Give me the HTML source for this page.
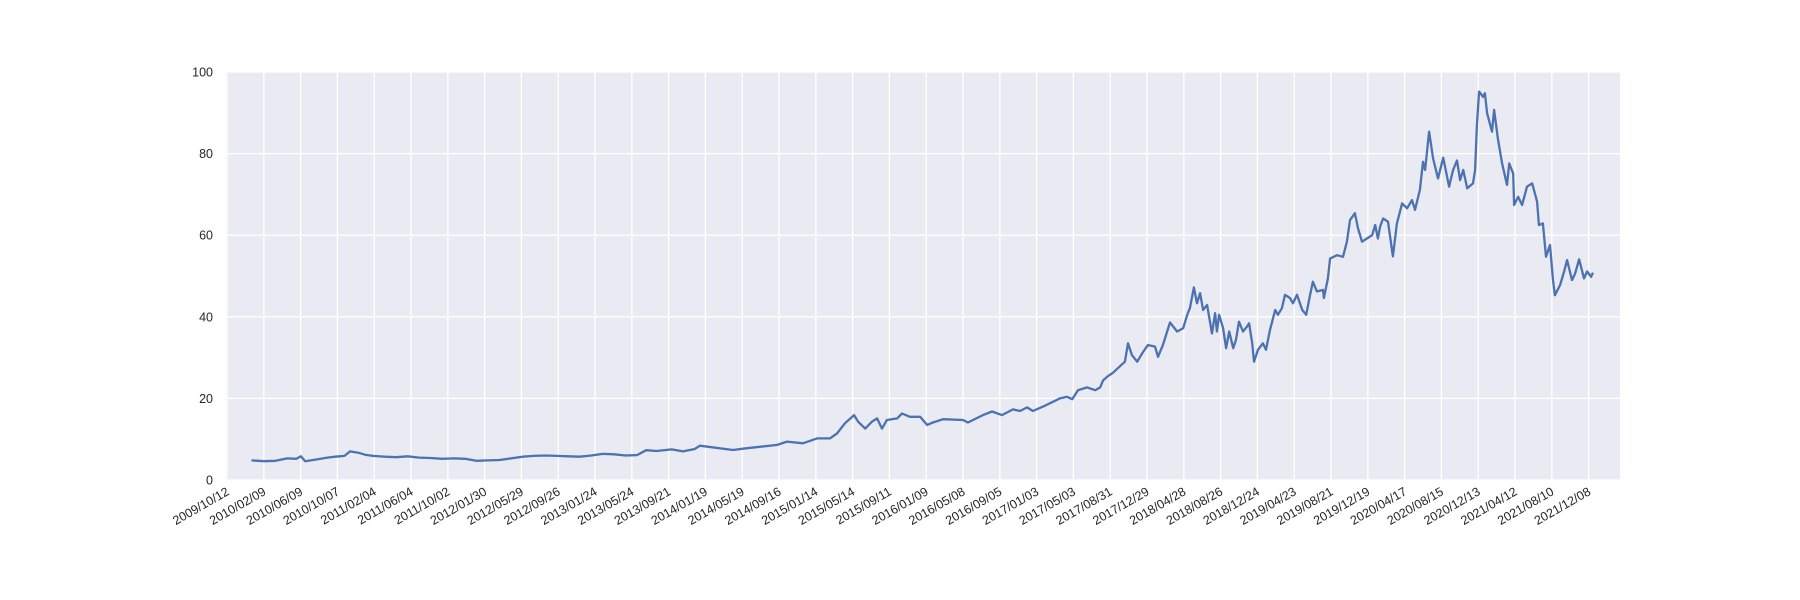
<!DOCTYPE html>
<html><head><meta charset="utf-8"><style>
html,body{margin:0;padding:0;background:#fff;}
svg{display:block;font-family:"Liberation Sans",sans-serif;}
</style></head><body>
<svg id="chart" width="1800" height="600" xmlns="http://www.w3.org/2000/svg">
<rect x="226" y="72" width="1394" height="408" fill="#eaeaf2"/>
<g id="grid"></g>
<g id="xticks"></g>
<g id="yticks"></g>
<path id="line" fill="none" stroke="#4c72b0" stroke-width="2.3" stroke-linejoin="round"/>
</svg>
<script>
const xTickLabels = ["2009/10/12","2010/02/09","2010/06/09","2010/10/07","2011/02/04","2011/06/04","2011/10/02","2012/01/30","2012/05/29","2012/09/26","2013/01/24","2013/05/24","2013/09/21","2014/01/19","2014/05/19","2014/09/16","2015/01/14","2015/05/14","2015/09/11","2016/01/09","2016/05/08","2016/09/05","2017/01/03","2017/05/03","2017/08/31","2017/12/29","2018/04/28","2018/08/26","2018/12/24","2019/04/23","2019/08/21","2019/12/19","2020/04/17","2020/08/15","2020/12/13","2021/04/12","2021/08/10","2021/12/08"];
const yTicks = [0,20,40,60,80,100];
// days since 2009/10/12
const days = [80,121,158,196,226,241,255,289,327,353,383,401,428,450,476,514,551,589,626,664,701,742,776,813,851,888,926,963,1000,1038,1075,1113,1150,1188,1225,1263,1300,1337,1367,1401,1450,1487,1525,
1542,1650,1696,1794,1826,1878,1924,1966,1989,2015,2045,2058,2081,2103,2120,2136,2152,2185,2201,2227,2260,2283,2302,2335,2400,2416,2465,2495,2527,2563,2586,2609,2628,2661,2694,2716,2739,2756,2775,2805,2831,2847,2857,
2870,2889,2928,2938,2951,2968,2984,3003,3026,3036,3052,3075,3098,3118,3131,3140,3153,3163,3173,3183,3196,3212,3222,3228,3235,3248,3258,3268,3281,3290,3300,3313,3326,3333,3343,3349,3362,3378,3388,3401,3418,3427,3440,3450,3466,3476,3489,3506,3519,3532,3541,3554,3574,3577,3590,3597,3620,3639,3652,3662,3678,3688,3701,3717,3734,3744,3753,
3760,3770,3786,3802,3815,3832,3848,3864,3874,3890,3900,3907,3920,3933,3949,3966,3985,3998,4011,4021,4031,4044,4063,4070,4076,4083,4096,4102,4109,4125,4132,4145,4158,4174,4181,4194,4197,4210,4223,4239,4256,4272,4278,4291,4301,4314,4324,4330,4347,4360,4370,4386,4396,4409,4425,4435,4448,4454];
const prices = [4.8,4.6,4.7,5.3,5.2,5.8,4.6,5.0,5.5,5.7,5.9,7.0,6.7,6.2,5.9,5.7,5.6,5.8,5.5,5.4,5.2,5.3,5.2,4.7,4.8,4.9,5.3,5.7,5.9,6.0,5.9,5.8,5.7,6.0,6.4,6.3,6.0,6.1,7.3,7.1,7.5,7.0,7.6,
8.4,7.35,7.8,8.6,9.4,9.0,10.2,10.2,11.4,13.9,15.9,14.3,12.6,14.3,15.1,12.6,14.7,15.1,16.3,15.5,15.5,13.5,14.1,14.9,14.7,14.1,15.9,16.8,15.9,17.3,16.9,17.8,16.9,18.0,19.2,20.0,20.4,19.8,22.0,22.7,22.0,22.7,24.4,
25.3,26.3,29.0,33.5,30.6,29.0,31.0,33.1,32.7,30.2,33.1,38.6,36.4,37.2,40.5,42.1,47.2,43.3,45.8,41.7,42.9,35.9,40.9,36.4,40.5,37.2,32.3,36.4,32.3,34.3,38.8,36.4,37.6,38.4,33.5,29.0,31.9,33.5,31.9,36.8,41.7,40.5,42.1,45.4,44.6,43.3,45.4,41.7,40.5,45.4,48.6,46.2,46.6,44.6,49.4,54.3,55.1,54.7,58.4,63.7,65.4,61.7,58.4,59.2,60.0,62.5,59.2,
62.1,64.1,63.3,54.8,62.9,67.8,66.6,68.6,66.2,71.1,78.0,76.0,85.4,78.8,73.9,79.0,71.9,76.0,78.3,73.5,76.0,71.5,72.7,76.0,87.4,95.2,93.9,94.8,89.9,85.4,90.7,83.3,77.6,72.3,77.6,75.1,67.4,69.4,67.4,71.9,72.7,68.2,62.5,62.9,54.7,57.6,49.0,45.3,47.8,51.1,53.9,49.0,50.6,54.1,49.4,51.1,49.8,50.8];

const NS="http://www.w3.org/2000/svg";
const X0=227, PX_PER_DAY=36.8/120;
function xs(d){return X0+d*PX_PER_DAY;}
function ys(v){return 480-v*4.08;}
const grid=document.getElementById('grid'), xt=document.getElementById('xticks'), yt=document.getElementById('yticks');
yTicks.forEach(v=>{
  const l=document.createElementNS(NS,'line');
  
  
  l.setAttribute('x1',226);l.setAttribute('x2',1620);l.setAttribute('y1',ys(v));l.setAttribute('y2',ys(v));
  l.setAttribute('stroke','#fff');l.setAttribute('stroke-width','1.3');grid.appendChild(l);
  const t=document.createElementNS(NS,'text');
  
  
  t.setAttribute('x',213);t.setAttribute('y',ys(v)+4.5);t.setAttribute('text-anchor','end');
  t.setAttribute('font-size','12.5');t.setAttribute('fill','#262626');t.textContent=v;yt.appendChild(t);
});
xTickLabels.forEach((s,i)=>{
  const x=xs(i*120);
  const l=document.createElementNS(NS,'line');
  
  
  l.setAttribute('x1',x);l.setAttribute('x2',x);l.setAttribute('y1',72);l.setAttribute('y2',480);
  l.setAttribute('stroke','#fff');l.setAttribute('stroke-width','1.3');grid.appendChild(l);
  const t=document.createElementNS(NS,'text');
  
  
  const tx=x+3, ty=494;
  t.setAttribute('x',tx);t.setAttribute('y',ty);t.setAttribute('text-anchor','end');
  t.setAttribute('transform',`rotate(-30 ${tx} ${ty})`);
  t.setAttribute('font-size','12.5');t.setAttribute('fill','#262626');t.textContent=s;xt.appendChild(t);
});
let d='';
days.forEach((dd,i)=>{d+=(i?'L':'M')+xs(dd).toFixed(1)+','+ys(prices[i]).toFixed(1);});
document.getElementById('line').setAttribute('d',d);
</script>
</body></html>
